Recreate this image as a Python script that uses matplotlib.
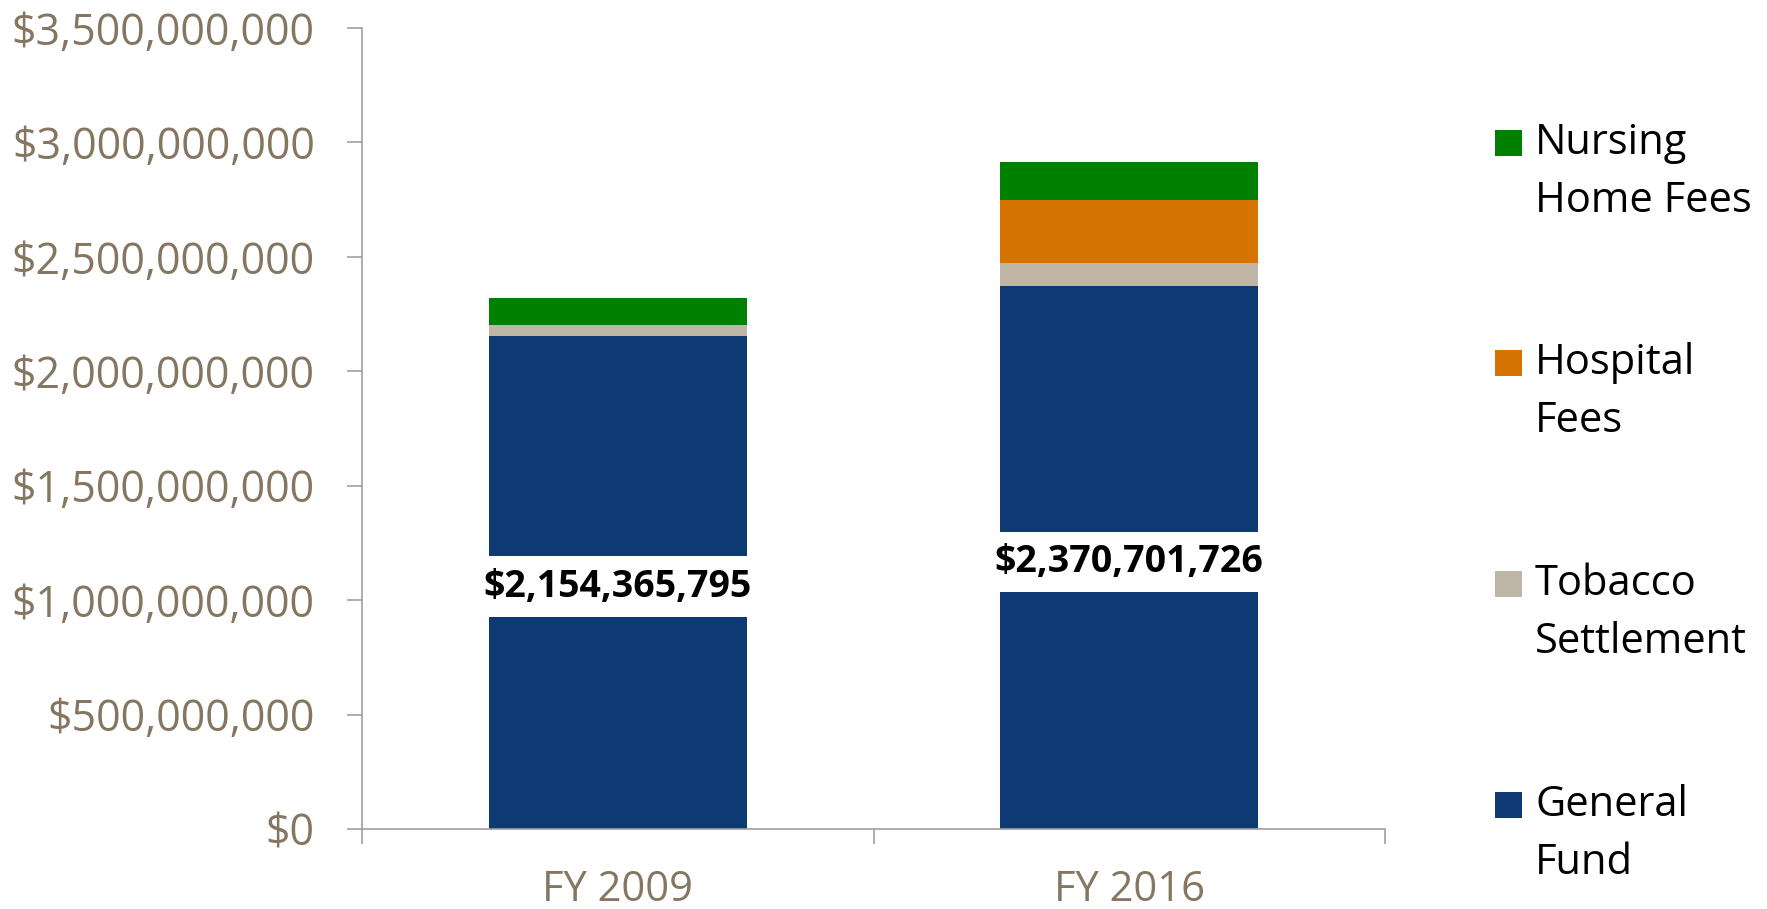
import numpy as np
import matplotlib.pyplot as plt
from matplotlib.patches import Rectangle
from matplotlib.ticker import FuncFormatter

# Dades del gràfic
anys = ['FY 2009', 'FY 2016']
series = ['General\nFund', 'Tobacco\nSettlement', 'Hospital\nFees', 'Nursing\nHome Fees']
general_fund = [2154365795, 2370701726]
tobacco = [46000000, 102000000]
hospital = [0, 275000000]
nursing = [121000000, 167000000]
etiquetes = ['$2,154,365,795', '$2,370,701,726']

colors = ['#0D3A72', '#C0B6A8', '#D57500', '#008000']
gris = '#857661'

plt.rcParams['font.family'] = ['Open Sans', 'DejaVu Sans']

fig = plt.figure(figsize=(17.67, 9.09), dpi=100)
ax = fig.add_axes([362 / 1767, 1 - 829 / 909, (1385 - 362) / 1767, (829 - 28) / 909])

x = np.arange(len(anys))
valors = [general_fund, tobacco, hospital, nursing]
base = np.zeros(len(anys))
for vals, col in zip(valors, colors):
    ax.bar(x, vals, width=0.504, bottom=base, color=col, edgecolor='none')
    base += np.array(vals)

# Etiquetes del General Fund al centre del segment
for xi, v, txt in zip(x, general_fund, etiquetes):
    ax.annotate(txt, (xi, v / 2), xytext=(0, -3), textcoords='offset points',
                ha='center', va='center', fontsize=27, fontweight='bold', color='black',
                bbox=dict(boxstyle='square,pad=0.3', facecolor='white', edgecolor='none'))

ax.set_xlim(-0.5, 1.5)
ax.set_ylim(0, 3500000000)
ax.set_yticks(np.arange(0, 3500000001, 500000000))
ax.yaxis.set_major_formatter(FuncFormatter(lambda v, p: '${:,.0f}'.format(v)))
ax.tick_params(axis='y', length=11, width=1.2, color='#A0A0A0', labelsize=31, labelcolor=gris, pad=23)

ax.set_xticks(x)
ax.set_xticklabels(anys)
ax.set_xticks([-0.5, 0.5, 1.5], minor=True)
ax.tick_params(axis='x', which='major', length=0, labelsize=30, labelcolor=gris, pad=29)
ax.tick_params(axis='x', which='minor', length=11, width=1.2, color='#A0A0A0')

for s in ['top', 'right']:
    ax.spines[s].set_visible(False)
for s in ['left', 'bottom']:
    ax.spines[s].set_color('#A0A0A0')
    ax.spines[s].set_linewidth(1.2)

# Llegenda feta a mà (ordre invers)
centres = [143, 363, 584, 805]
for nom, col, yc in zip(series[::-1], colors[::-1], centres):
    fig.add_artist(Rectangle((1495 / 1767, 1 - (yc + 13) / 909), 27 / 1767, 26 / 909,
                             transform=fig.transFigure, facecolor=col, edgecolor='none'))
    fig.text(1535 / 1767, 1 - (yc + 29) / 909, nom, ha='left', va='center', fontsize=30,
             color='black', linespacing=1.5)

plt.savefig('out.png', dpi=100)
